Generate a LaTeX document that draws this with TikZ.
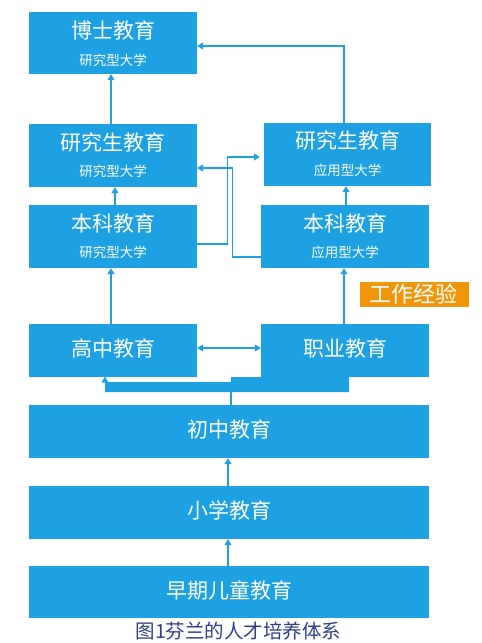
\documentclass[tikz,border=0pt]{standalone}
\usepackage{fontspec}
\newfontfamily\cjk{Noto Sans CJK SC}
\usetikzlibrary{arrows.meta}
\definecolor{boxblue}{HTML}{1DA1E2}
\definecolor{orng}{HTML}{F0960A}
\definecolor{capblue}{HTML}{2C3E8C}
\tikzset{
 box/.style={fill=boxblue, draw=none, inner sep=0pt, minimum width=168pt},
 ttl/.style={text=white, font=\cjk\fontsize{21}{25}\selectfont, inner sep=0pt},
 sub/.style={text=white, font=\cjk\fontsize{13.5}{16}\selectfont, inner sep=0pt},
 conn/.style={draw=boxblue, line width=1.2pt},
 arr/.style={conn, -{Triangle[length=6pt,width=7pt]}},
 darr/.style={conn, {Triangle[length=6pt,width=7pt]}-{Triangle[length=6pt,width=7pt]}},
}
\begin{document}
\begin{tikzpicture}[x=1pt,y=-1pt]
\useasboundingbox[fill=white] (0,0) rectangle (482,643);
% boxes
\node[box,minimum height=62pt] (phd) at (113,43) {};
\node[box,minimum height=63pt] (msL) at (113,155.5) {};
\node[box,minimum width=167pt,minimum height=63pt] (msR) at (347.5,154.5) {};
\node[box,minimum height=63pt] (baL) at (113,236.5) {};
\node[box,minimum height=63pt] (baR) at (345,236.5) {};
\node[box,minimum height=53pt] (hs) at (113,350.5) {};
\node[box,minimum height=53pt] (voc) at (345,350.5) {};
\node[box,minimum width=400pt,minimum height=53pt] (mid) at (229,431.5) {};
\node[box,minimum width=400pt,minimum height=53pt] (pri) at (229,512.5) {};
\node[box,minimum width=400pt,minimum height=52pt] (ece) at (229,592) {};
\node[fill=orng, minimum width=109pt, minimum height=25pt, inner sep=0pt] (work) at (414.5,294.5) {};
% texts
\node[ttl] at ([yshift=13pt]phd.center) {博士教育};
\node[sub] at ([yshift=-17pt]phd.center) {研究型大学};
\node[ttl] at ([yshift=13.5pt]msL.center) {研究生教育};
\node[sub] at ([yshift=-16pt]msL.center) {研究型大学};
\node[ttl] at ([yshift=14pt]msR.center) {研究生教育};
\node[sub] at ([yshift=-15.5pt]msR.center) {应用型大学};
\node[ttl] at ([yshift=13.5pt]baL.center) {本科教育};
\node[sub] at ([yshift=-16pt]baL.center) {研究型大学};
\node[ttl] at ([yshift=13.5pt]baR.center) {本科教育};
\node[sub] at ([yshift=-16pt]baR.center) {应用型大学};
\node[ttl] at ([yshift=2.5pt]hs.center) {高中教育};
\node[ttl] at ([yshift=2.5pt]voc.center) {职业教育};
\node[ttl] at ([yshift=2.5pt]mid.center) {初中教育};
\node[ttl] at ([yshift=2.5pt]pri.center) {小学教育};
\node[ttl] at ([yshift=2pt]ece.center) {早期儿童教育};
\node[ttl, font=\cjk\fontsize{22}{26}\selectfont] at ([xshift=-1pt]work.center) {工作经验};
\node[inner sep=0pt, text=capblue, font=\cjk\fontsize{19.5}{23}\selectfont] (cap) at (238.5,631) {图1芬兰的人才培养体系};
% connectors
\draw[arr] ([xshift=-2pt]msL.north) -- ([xshift=-2pt]phd.south);
\draw[arr] ([xshift=-3.5pt]msR.north) |- ([yshift=-3pt]phd.east);
\draw[arr] ([xshift=2pt]baL.north) -- ([xshift=2pt]msL.south);
\draw[arr] ([xshift=1pt]baR.north) -- ([xshift=-1.5pt]msR.south);
\draw[arr, shorten >=4pt] ([yshift=-7.5pt]baL.east) -| ([xshift=-36pt,yshift=-2.5pt]msR.west) -- ([yshift=-2.5pt]msR.west);
\draw[arr] ([yshift=-20.5pt]baR.west) -| ([xshift=35pt,yshift=-12.5pt]msL.east) -- ([yshift=-12.5pt]msL.east);
\draw[arr] ([xshift=-2pt]hs.north) -- ([xshift=-2pt]baL.south);
\draw[arr] ([xshift=-1pt]voc.north) -- ([xshift=-1pt]baR.south);
\draw[darr] ([yshift=2.5pt]hs.east) -- ([yshift=2.5pt]voc.west);
% thick bent arrow from vocational to high school
\fill[boxblue] (105,382) -- (231,382) -- (231,377) -- (349,377) -- (349,392) -- (105,392) -- cycle;
\fill[boxblue] (101.5,382.5) -- (105,376.5) -- (108.5,382.5) -- cycle;
\coordinate (barb) at (231,392);
\draw[conn] ([xshift=2pt]mid.north) -- (barb);
\draw[arr] ([xshift=-1pt]pri.north) -- ([xshift=-1pt]mid.south);
\draw[arr] ([xshift=-1pt]ece.north) -- ([xshift=-1pt]pri.south);
\end{tikzpicture}
\end{document}
